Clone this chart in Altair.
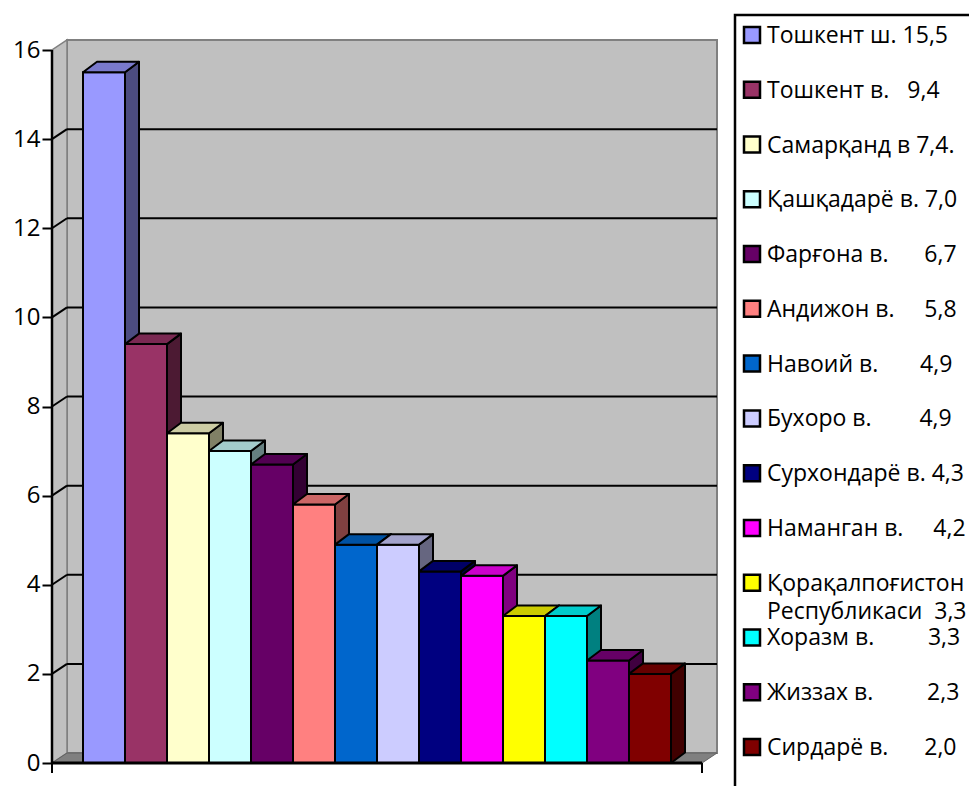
import altair as alt
import pandas as pd

# ---------------- data ----------------
regions = ["Тошкент ш.", "Тошкент в.", "Самарқанд в", "Қашқадарё в.", "Фарғона в.",
           "Андижон в.", "Навоий в.", "Бухоро в.", "Сурхондарё в.", "Наманган в.",
           "Қорақалпоғистон Республикаси", "Хоразм в.", "Жиззах в.", "Сирдарё в."]
values = [15.5, 9.4, 7.4, 7.0, 6.7, 5.8, 4.9, 4.9, 4.3, 4.2, 3.3, 3.3, 2.3, 2.0]
colors = ["#9999FF", "#993366", "#FFFFCC", "#CCFFFF", "#660066", "#FF8080", "#0066CC",
          "#CCCCFF", "#000080", "#FF00FF", "#FFFF00", "#00FFFF", "#800080", "#800000"]
legend_labels = ["Тошкент ш. 15,5", "Тошкент в.   9,4", "Самарқанд в 7,4.", "Қашқадарё в. 7,0",
                 "Фарғона в.      6,7", "Андижон в.     5,8", "Навоий в.       4,9", "Бухоро в.        4,9",
                 "Сурхондарё в. 4,3", "Наманган в.     4,2", "Қорақалпоғистон\nРеспубликаси  3,3",
                 "Хоразм в.         3,3", "Жиззах в.         2,3", "Сирдарё в.      2,0"]
y_ticks = [0, 2, 4, 6, 8, 10, 12, 14, 16]

# ---------------- layout constants ----------------
W, H = 917, 778
PX = 44.5625                     # pixels per unit on y
Y_MAX = (763 - 8) / PX
Y_MIN = Y_MAX - H / PX
WALL_DX, WALL_DV = 15, 10 / PX
BAR_DX, BAR_DV = 14, 10.5 / PX
BAR_X0, BAR_W = 31, 42
FLOOR_W = 650
TOP = 16
FONT = "Open Sans"


def shade(hexc, f):
    r, g, b = (int(hexc[i:i + 2], 16) for i in (1, 3, 5))
    return "#%02x%02x%02x" % (round(r * f), round(g * f), round(b * f))


def pv(page_y):
    return (763 - page_y) / PX


xs = alt.Scale(domain=[0, W], nice=False, zero=False)
ys = alt.Scale(domain=[Y_MIN, Y_MAX], nice=False, zero=False)
yaxis = alt.Axis(values=y_ticks, domain=False, grid=False, tickColor="black", tickWidth=2, tickSize=10,
                 labelFont=FONT, labelFontSize=24, labelColor="black", labelPadding=2, title=None)
X = lambda f: alt.X(f, type="quantitative", scale=xs, axis=None)
Y = lambda f: alt.Y(f, type="quantitative", scale=ys, axis=yaxis)

# ---------------- walls ----------------
side_wall = pd.DataFrame({"x": [0, WALL_DX], "y": [0, WALL_DV], "y2": [TOP, TOP + WALL_DV]})
side_wall_l = alt.Chart(side_wall).mark_area(orient="vertical", fill="#C0C0C0", stroke="#808080",
                                             strokeWidth=1.5).encode(x=X("x"), y=Y("y"), y2="y2")
back_wall = pd.DataFrame({"x": [WALL_DX], "x2": [FLOOR_W + WALL_DX], "y": [WALL_DV], "y2": [TOP + WALL_DV]})
back_wall_l = alt.Chart(back_wall).mark_rect(fill="#C0C0C0", stroke="#808080", strokeWidth=2).encode(
    x=X("x"), x2="x2", y=Y("y"), y2="y2")
floor = pd.DataFrame({"y": [0, WALL_DV], "x": [0, WALL_DX], "x2": [FLOOR_W, FLOOR_W + WALL_DX]})
floor_l = alt.Chart(floor).mark_area(orient="horizontal", fill="#808080", stroke="#606060",
                                     strokeWidth=1).encode(y=Y("y"), x=X("x"), x2="x2")

grid_vals = [v for v in y_ticks if 0 < v < TOP]
grid = pd.DataFrame({"x": [WALL_DX] * len(grid_vals), "x2": [FLOOR_W + WALL_DX] * len(grid_vals),
                     "y": [v + WALL_DV for v in grid_vals]})
grid_l = alt.Chart(grid).mark_rule(color="black", strokeWidth=2).encode(x=X("x"), x2="x2", y=Y("y"))
diag = pd.DataFrame({"x": [0] * len(grid_vals), "x2": [WALL_DX] * len(grid_vals),
                     "y": grid_vals, "y2": [v + WALL_DV for v in grid_vals]})
diag_l = alt.Chart(diag).mark_rule(color="black", strokeWidth=2).encode(x=X("x"), x2="x2", y=Y("y"), y2="y2")

# ---------------- bars ----------------
front_rows, top_rows, side_rows = [], [], []
for i, (r, v, c) in enumerate(zip(regions, values, colors)):
    L = BAR_X0 + i * BAR_W
    R = L + BAR_W
    front_rows.append({"id": i, "x": L, "x2": R, "y": 0, "y2": v, "c": c})
    top_rows += [{"id": i, "y": v, "x": L, "x2": R, "c": shade(c, 0.8)},
                 {"id": i, "y": v + BAR_DV, "x": L + BAR_DX, "x2": R + BAR_DX, "c": shade(c, 0.8)}]
    side_rows += [{"id": i, "x": R, "y": 0, "y2": v, "c": shade(c, 0.5)},
                  {"id": i, "x": R + BAR_DX, "y": BAR_DV, "y2": v + BAR_DV, "c": shade(c, 0.5)}]

sides_l = alt.Chart(pd.DataFrame(side_rows)).mark_area(orient="vertical", stroke="black", strokeWidth=2,
                                                       strokeJoin="round").encode(
    x=X("x"), y=Y("y"), y2="y2", detail="id:N", fill=alt.Fill("c:N", scale=None))
fronts_l = alt.Chart(pd.DataFrame(front_rows)).mark_rect(stroke="black", strokeWidth=2).encode(
    x=X("x"), x2="x2", y=Y("y"), y2="y2", fill=alt.Fill("c:N", scale=None))
tops_l = alt.Chart(pd.DataFrame(top_rows)).mark_area(orient="horizontal", stroke="black", strokeWidth=2,
                                                     strokeJoin="round").encode(
    y=Y("y"), x=X("x"), x2="x2", detail="id:N", fill=alt.Fill("c:N", scale=None))

# ---------------- axes ----------------
front_axis = pd.DataFrame({"x": [0], "y": [0], "y2": [TOP]})
front_axis_l = alt.Chart(front_axis).mark_rule(color="black", strokeWidth=2.5).encode(x=X("x"), y=Y("y"), y2="y2")
bottom_axis = pd.DataFrame({"x": [0], "x2": [FLOOR_W], "y": [0]})
bottom_axis_l = alt.Chart(bottom_axis).mark_rule(color="black", strokeWidth=3).encode(x=X("x"), x2="x2", y=Y("y"))
xticks = pd.DataFrame({"x": [0, FLOOR_W], "y": [0, 0], "y2": [-10 / PX, -10 / PX]})
xticks_l = alt.Chart(xticks).mark_rule(color="black", strokeWidth=2).encode(x=X("x"), y=Y("y"), y2="y2")

# ---------------- legend ----------------
LEG_TOP, LEG_STEP = 35, 54.77
legend_box = pd.DataFrame({"x": [735 - 52], "x2": [1010 - 52], "y": [pv(15)], "y2": [pv(820)]})
legend_box_l = alt.Chart(legend_box).mark_rect(fill="white", stroke="black", strokeWidth=2.5).encode(
    x=X("x"), x2="x2", y=Y("y"), y2="y2")
leg = pd.DataFrame({
    "label": [s.replace(" ", "\u00a0") for s in legend_labels],
    "c": colors,
    "y": [pv(LEG_TOP + i * LEG_STEP) for i in range(len(legend_labels))],
    "xs": [752 - 52] * len(legend_labels),
    "xt": [767 - 52] * len(legend_labels),
})
leg_sym_l = alt.Chart(leg).mark_square(size=256, stroke="black", strokeWidth=2.5, opacity=1).encode(
    x=X("xs"), y=Y("y"), fill=alt.Fill("c:N", scale=None))
leg_txt_l = alt.Chart(leg).mark_text(align="left", baseline="alphabetic", dy=8, font=FONT, fontSize=23,
                                     lineBreak="\n", lineHeight=28, color="black").encode(
    x=X("xt"), y=Y("y"), text="label:N")

chart = alt.layer(
    back_wall_l, side_wall_l, floor_l, grid_l, diag_l,
    sides_l, fronts_l, tops_l,
    front_axis_l, bottom_axis_l, xticks_l,
    legend_box_l, leg_sym_l, leg_txt_l,
).properties(
    width=W, height=H, autosize=alt.AutoSizeParams(type="none"),
    padding={"left": 44, "top": 0, "right": 0, "bottom": 0},
    background="white",
).configure_view(strokeWidth=0)

chart.save("out.html", embed_options={"renderer": "svg", "actions": False})
